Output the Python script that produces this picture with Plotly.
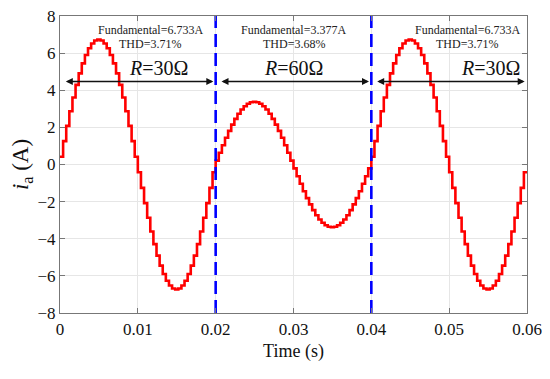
import plotly.graph_objects as go

# Sampled phase current i_a (A), zero-order hold, sample period 0.4 ms
sample_period = 0.0004
i_a_seg1 = [0.42, 1.26, 2.08, 2.87, 3.61, 4.29, 4.91, 5.45, 5.90, 6.26, 6.52, 6.68, 6.73, 6.68, 6.52, 6.26, 5.90, 5.45, 4.91, 4.29, 3.61, 2.87, 2.08, 1.26, 0.42,
            -0.42, -1.26, -2.08, -2.87, -3.61, -4.29, -4.91, -5.45, -5.90, -6.26, -6.52, -6.68, -6.73, -6.68, -6.52, -6.26, -5.90, -5.45, -4.91, -4.29, -3.61, -2.87, -2.08, -1.26, -0.42]
i_a_seg2 = [0.21, 0.63, 1.04, 1.44, 1.81, 2.15, 2.46, 2.73, 2.96, 3.14, 3.27, 3.35, 3.38, 3.35, 3.27, 3.14, 2.96, 2.73, 2.46, 2.15, 1.81, 1.44, 1.04, 0.63, 0.21,
            -0.21, -0.63, -1.04, -1.44, -1.81, -2.15, -2.46, -2.73, -2.96, -3.14, -3.27, -3.35, -3.38, -3.35, -3.27, -3.14, -2.96, -2.73, -2.46, -2.15, -1.81, -1.44, -1.04, -0.63, -0.21]
i_a_seg3 = [0.42, 1.26, 2.08, 2.87, 3.61, 4.29, 4.91, 5.45, 5.90, 6.26, 6.52, 6.68, 6.73, 6.68, 6.52, 6.26, 5.90, 5.45, 4.91, 4.29, 3.61, 2.87, 2.08, 1.26, 0.42,
            -0.42, -1.26, -2.08, -2.87, -3.61, -4.29, -4.91, -5.45, -5.90, -6.26, -6.52, -6.68, -6.73, -6.68, -6.52, -6.26, -5.90, -5.45, -4.91, -4.29, -3.61, -2.87, -2.08, -1.26, -0.42]

boundaries = [0.02, 0.04]
segment_edges = [0.0, 0.02, 0.04, 0.06]
resistance_labels = ["<i>R</i>=30Ω", "<i>R</i>=60Ω", "<i>R</i>=30Ω"]
resistance_label_x = [0.0126, 0.030, 0.0553]
fundamental_labels = ["Fundamental=6.733A", "Fundamental=3.377A", "Fundamental=6.733A"]
thd_labels = ["THD=3.71%", "THD=3.68%", "THD=3.71%"]
info_label_x = [0.0116, 0.030, 0.0523]
arrow_y = 4.47

x_ticks = [0, 0.01, 0.02, 0.03, 0.04, 0.05, 0.06]
x_tick_text = ["0", "0.01", "0.02", "0.03", "0.04", "0.05", "0.06"]
y_ticks = [-8, -6, -4, -2, 0, 2, 4, 6, 8]

values = i_a_seg1 + i_a_seg2 + i_a_seg3
t = [k * sample_period for k in range(len(values))] + [0.06]
y = values + [values[-1]]

FONT = "Times New Roman, Liberation Serif, serif"

fig = go.Figure()
fig.add_trace(go.Scatter(x=t, y=y, mode="lines", line=dict(color="#ff0000", width=2.6, shape="hv"),
                         showlegend=False, hoverinfo="skip"))

for b in boundaries:
    fig.add_trace(go.Scatter(x=[b, b], y=[-8, 8], mode="lines",
                             line=dict(color="#0000ff", width=2.6, dash="13px,6px"),
                             showlegend=False, hoverinfo="skip"))

annotations = []
for i in range(3):
    x0 = segment_edges[i] + 0.0003
    x1 = segment_edges[i + 1] - 0.0003
    annotations.append(dict(x=x1, y=arrow_y, ax=x0, ay=arrow_y, xref="x", yref="y", axref="x", ayref="y",
                            showarrow=True, arrowhead=2, arrowside="end+start", arrowsize=1.0,
                            arrowwidth=1.4, arrowcolor="#111111", text=" "))
    annotations.append(dict(x=resistance_label_x[i], y=5.2, xref="x", yref="y", text=resistance_labels[i],
                            showarrow=False, yanchor="middle", font=dict(family=FONT, size=20, color="#111111")))
    annotations.append(dict(x=info_label_x[i], y=7.22, xref="x", yref="y", text=fundamental_labels[i],
                            showarrow=False, yanchor="middle", font=dict(family=FONT, size=12, color="#222222")))
    annotations.append(dict(x=info_label_x[i], y=6.47, xref="x", yref="y", text=thd_labels[i],
                            showarrow=False, yanchor="middle", font=dict(family=FONT, size=12, color="#222222")))

# page body has an 8px default margin, so the figure is sized/offset to compensate
fig.update_layout(
    width=542, height=371,
    margin=dict(l=52, r=23, t=8, b=66),
    paper_bgcolor="white", plot_bgcolor="white",
    font=dict(family=FONT, size=17, color="#111111"),
    annotations=annotations,
    xaxis=dict(range=[0, 0.06], tickvals=x_ticks, ticktext=x_tick_text, automargin=False,
               ticklabeloverflow="allow",
               showgrid=True, gridcolor="#e6e6e6", gridwidth=1, zeroline=False,
               showline=True, linecolor="#777777", linewidth=1.2, mirror="ticks",
               ticks="inside", ticklen=5, tickcolor="#777777",
               title=dict(text="Time (s)", font=dict(family=FONT, size=18), standoff=6)),
    yaxis=dict(range=[-8, 8], tickvals=y_ticks, automargin=False,
               ticklabeloverflow="allow",
               showgrid=True, gridcolor="#e6e6e6", gridwidth=1, zeroline=False,
               showline=True, linecolor="#777777", linewidth=1.2, mirror="ticks",
               ticks="inside", ticklen=5, tickcolor="#777777",
               title=dict(text="<i>i</i><sub>a</sub> (A)", font=dict(family=FONT, size=23), standoff=8)),
)

fig.write_html("out.html")
